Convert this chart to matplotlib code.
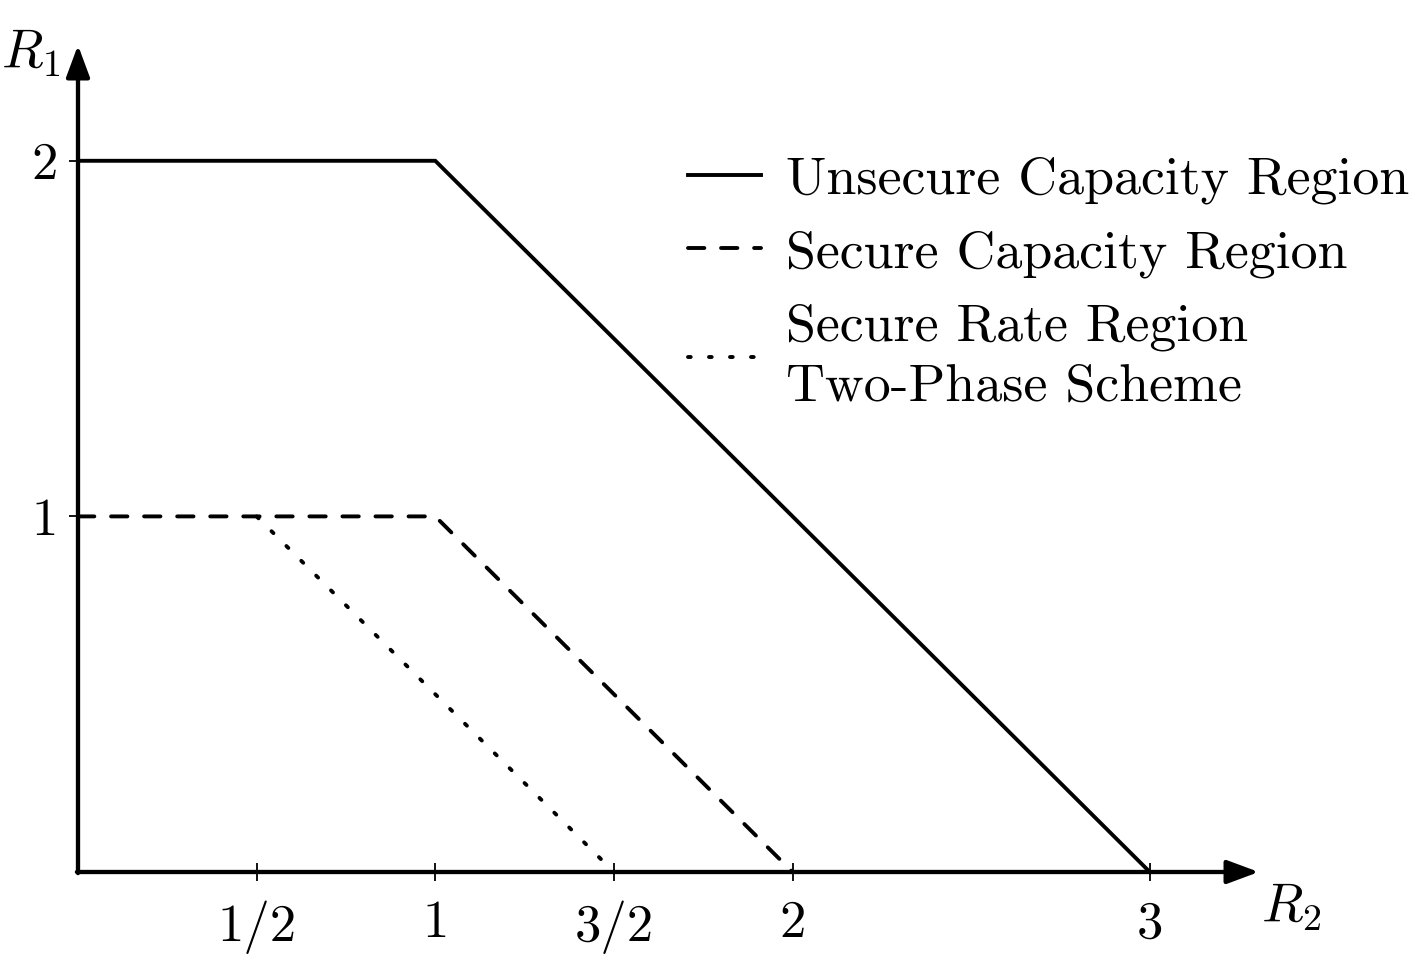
import matplotlib
matplotlib.use('Agg')
import matplotlib.pyplot as plt

plt.rcParams['font.family'] = 'serif'
plt.rcParams['font.serif'] = ['cmr10']
plt.rcParams['mathtext.fontset'] = 'cm'
plt.rcParams['axes.unicode_minus'] = False
plt.rcParams['font.size'] = 38

# region corner points (R2, R1)
unsecure_r2 = [0, 1, 3]
unsecure_r1 = [2, 2, 0]
secure_r2 = [0, 1, 2]
secure_r1 = [1, 1, 0]
twophase_r2 = [0.5, 1.5]
twophase_r1 = [1, 0]

xtick_vals = [0.5, 1, 1.5, 2, 3]
xtick_labels = ['1/2', '1', '3/2', '2', '3']
ytick_vals = [1, 2]
ytick_labels = ['1', '2']

W, H = 1411, 955
fig = plt.figure(figsize=(W / 100, H / 100), dpi=100)
ax = fig.add_axes([78 / W, 83 / H, 1179 / W, 825 / H])
ax.set_xlim(0, 3.3)
ax.set_ylim(0, 2.32)
for s in ax.spines.values():
    s.set_visible(False)

lw = 2.8
ax.plot(unsecure_r2, unsecure_r1, color='black', lw=lw, solid_joinstyle='miter',
        label='Unsecure Capacity Region', clip_on=False)
ax.plot(secure_r2, secure_r1, color='black', lw=lw, linestyle=(0, (4.2, 4.3)),
        dash_capstyle='round', label='Secure Capacity Region', clip_on=False)
ax.plot(twophase_r2, twophase_r1, color='black', lw=lw, linestyle=(0, (0.7, 4.7)),
        dash_capstyle='round', label='Secure Rate Region\nTwo-Phase Scheme', clip_on=False)

# axes with arrow heads
arrow = dict(arrowstyle='-|>,head_length=0.97,head_width=0.36', color='black',
             lw=3.1, mutation_scale=20, shrinkA=0, shrinkB=0)
ax.annotate('', xy=(3.305, 0), xytext=(-0.003, 0), arrowprops=arrow, annotation_clip=False)
ax.annotate('', xy=(0, 2.325), xytext=(0, -0.003), arrowprops=arrow, annotation_clip=False)

ax.set_xticks(xtick_vals, xtick_labels)
ax.set_yticks(ytick_vals, ytick_labels)
ax.tick_params(axis='x', direction='inout', length=13, width=1.3, pad=14)
ax.tick_params(axis='y', direction='inout', length=13, width=1.3, pad=8)

fig.text(1 / W, 1 - 68 / H, '$R_1$', fontsize=39, ha='left', va='baseline')
fig.text(1261 / W, 1 - 922 / H, '$R_2$', fontsize=39, ha='left', va='baseline')

leg = ax.legend(loc='upper left', bbox_to_anchor=(688 / W, 1 - 156 / H),
                bbox_transform=fig.transFigure, frameon=False, borderpad=0,
                borderaxespad=0, handlelength=1.36, handletextpad=0.46,
                labelspacing=0.47, fontsize=38.8)
for t in leg.get_texts():
    t.set_linespacing(1.36)

fig.savefig('out.png', dpi=100)
